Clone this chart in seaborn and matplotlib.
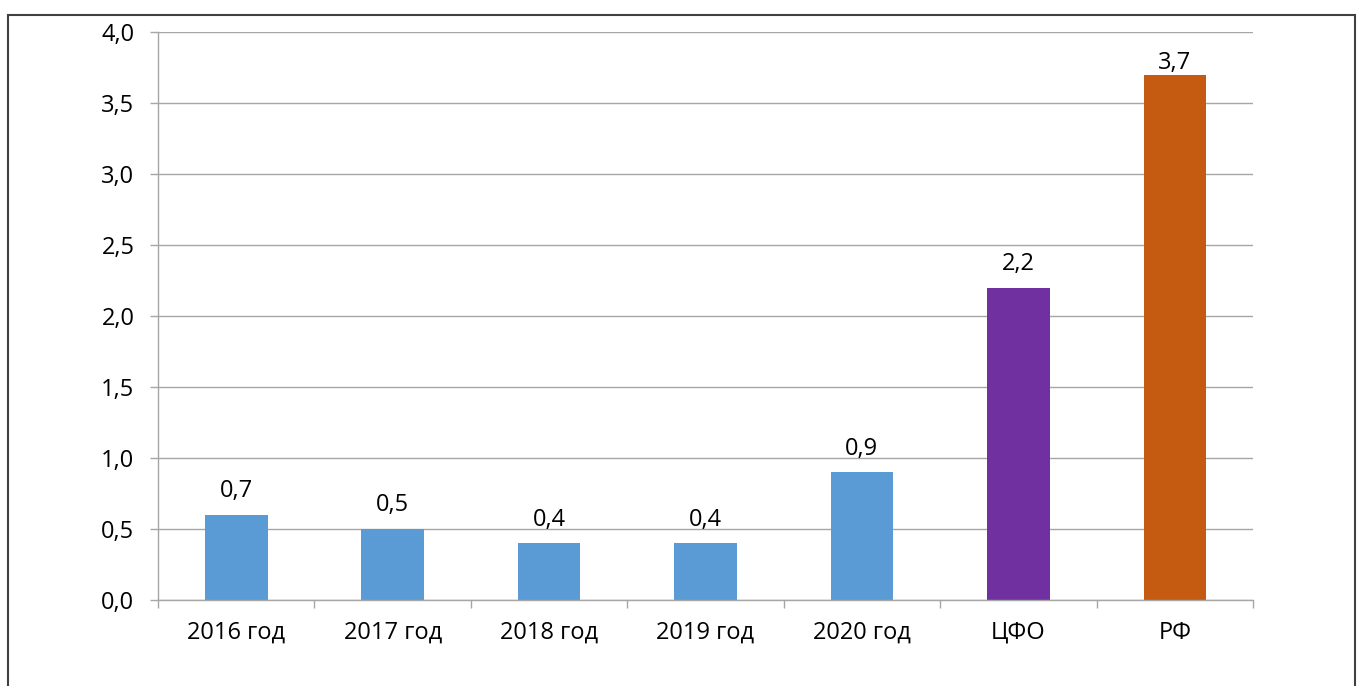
import numpy as np
import pandas as pd
import matplotlib
matplotlib.use("Agg")
import matplotlib.pyplot as plt
import seaborn as sns
from matplotlib.patches import Rectangle
from matplotlib.ticker import FuncFormatter, FixedLocator

# data
categories = ["2016 год", "2017 год", "2018 год", "2019 год", "2020 год", "ЦФО", "РФ"]
values = [0.6, 0.5, 0.4, 0.4, 0.9, 2.2, 3.7]
value_labels = ["0,7", "0,5", "0,4", "0,4", "0,9", "2,2", "3,7"]
bar_colors = ["#5B9BD5", "#5B9BD5", "#5B9BD5", "#5B9BD5", "#5B9BD5", "#7030A0", "#C55A11"]
yticks = [0.0, 0.5, 1.0, 1.5, 2.0, 2.5, 3.0, 3.5, 4.0]

df = pd.DataFrame({"cat": categories, "val": values})

sns.set_style("white")
plt.rcParams["font.family"] = ["Open Sans", "DejaVu Sans"]
plt.rcParams["text.color"] = "black"
plt.rcParams["xtick.color"] = "black"
plt.rcParams["ytick.color"] = "black"

fig = plt.figure(figsize=(13.63, 6.86), dpi=100)
ax = fig.add_axes([158 / 1363, 86 / 686, (1253 - 158) / 1363, (600 - 32) / 686])

sns.barplot(data=df, x="cat", y="val", hue="cat", palette=bar_colors,
            width=0.4, legend=False, ax=ax, saturation=1, edgecolor="none")

ax.set_ylim(0, 4.0)
ax.set_xlim(-0.5, len(categories) - 0.5)
ax.set_yticks(yticks)
ax.yaxis.set_major_formatter(FuncFormatter(lambda v, p: f"{v:.1f}".replace(".", ",")))
ax.yaxis.grid(True, color="#A6A6A6", linewidth=1)
ax.set_axisbelow(True)
ax.set_xlabel("")
ax.set_ylabel("")

for s in ["top", "right"]:
    ax.spines[s].set_visible(False)
for s in ["left", "bottom"]:
    ax.spines[s].set_color("#A6A6A6")
    ax.spines[s].set_linewidth(1)

ax.tick_params(axis="y", left=True, length=6, width=1, color="#A6A6A6",
               labelcolor="black", labelsize=17, pad=11)
ax.tick_params(axis="x", which="major", length=0, labelsize=17, pad=15, labelcolor="black")
ax.xaxis.set_minor_locator(FixedLocator(np.arange(-0.5, len(categories), 1.0)))
ax.tick_params(axis="x", which="minor", bottom=True, length=6, width=1, color="#A6A6A6")

for i, (v, lab) in enumerate(zip(values, value_labels)):
    off = 8 if v > 3.5 else 17
    ax.annotate(lab, (i, v), xytext=(0, off), textcoords="offset points",
                ha="center", va="center", fontsize=17)

# frame round the whole chart
fig.patches.append(Rectangle((8 / 1363, -0.02), (1355 - 8) / 1363, (686 - 15) / 686 + 0.02,
                             transform=fig.transFigure, fill=False,
                             edgecolor="#404040", linewidth=1.5))

fig.savefig("out.png", dpi=100)
